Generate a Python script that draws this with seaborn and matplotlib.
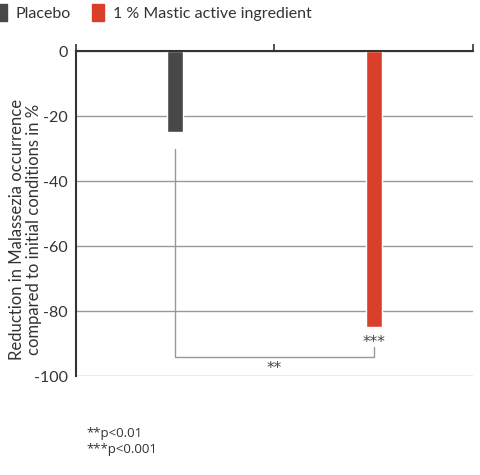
import matplotlib
matplotlib.use("Agg")
import matplotlib.pyplot as plt
import matplotlib.patches as mpatches
import seaborn as sns

#%% data
groups = ["Placebo", "1 % Mastic active ingredient"]
reduction = [-25, -85]
barColors = ["#484848", "#d9402b"]
yTicks = [0, -20, -40, -60, -80, -100]
footnotes = ["**p<0.01", "***p<0.001"]

#%% plot
sns.set_style("white")
plt.rcParams["font.family"] = ["Lato", "DejaVu Sans"]

fig = plt.figure(figsize=(4.8, 4.75), dpi=100)
ax = fig.add_axes([0.1583, 0.2084, 0.8267, 0.6842])

sns.barplot(x=groups, y=reduction, hue=groups, palette=barColors,
            width=0.08, legend=False, ax=ax, saturation=1)

ax.set_xlim(-0.5, 1.5)
ax.set_ylim(-100, 0)
ax.set_yticks(yTicks)
ax.set_yticklabels([str(t) for t in yTicks], fontsize=11.5, color="#333333")
ax.yaxis.grid(True, color="#999999", linewidth=1)
ax.set_axisbelow(True)

# x axis on top, ticks at category borders
ax.xaxis.tick_top()
ax.set_xticks([-0.5, 0.5, 1.5])
ax.set_xticklabels([])
ax.tick_params(axis="x", direction="out", length=5, width=1.2, color="#333333", top=True)
ax.tick_params(axis="y", length=0, pad=6)
ax.set_xlabel("")

for side in ["right", "bottom"]:
    ax.spines[side].set_visible(False)
for side in ["left", "top"]:
    ax.spines[side].set_color("#333333")
    ax.spines[side].set_linewidth(1.5)

ax.set_ylabel("Reduction in Malassezia occurrence\ncompared to initial conditions in %",
              fontsize=12, color="#333333", linespacing=1.1)
ax.yaxis.set_label_coords(-0.085, 0.45)

# significance bracket
ax.plot([0, 0, 1, 1], [-30, -94, -94, -91], color="#999999", linewidth=1)
ax.text(1, -89.6, "***", ha="center", va="center", fontsize=11, color="#444444",
        family="DejaVu Sans")
ax.text(0.5, -97.6, "**", ha="center", va="center", fontsize=11, color="#444444",
        family="DejaVu Sans")

# legend
handles = [mpatches.Patch(color=c, label=g) for g, c in zip(groups, barColors)]
fig.legend(handles=handles, loc="upper left", bbox_to_anchor=(-0.04, 1.022), ncol=2,
           frameon=False, fontsize=11.5, handlelength=0.75, handleheight=1.25,
           handletextpad=0.55, columnspacing=1.3, labelcolor="#333333")

# footnotes
fig.text(86 / 480, 1 - 434 / 475, footnotes[0], fontsize=9.5, color="#333333", va="center",
         family="Open Sans")
fig.text(86 / 480, 1 - 450 / 475, footnotes[1], fontsize=9.5, color="#333333", va="center",
         family="Open Sans")

fig.savefig("out.png", dpi=100)
